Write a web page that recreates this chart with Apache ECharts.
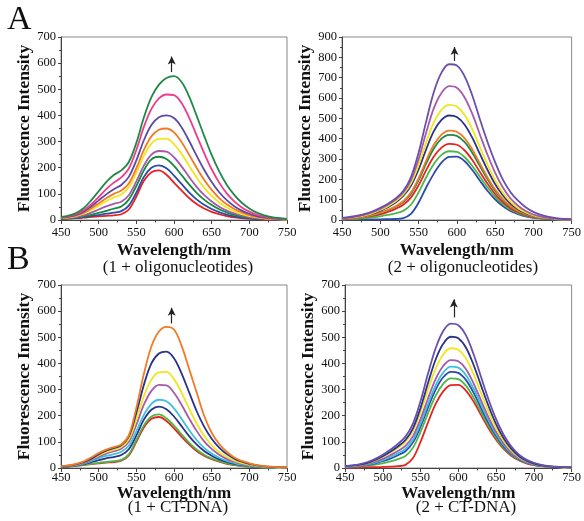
<!DOCTYPE html>
<html><head><meta charset="utf-8">
<script src="https://cdn.jsdelivr.net/npm/echarts@6/dist/echarts.min.js"></script>
<style>html,body{margin:0;padding:0;background:#fff}#c{width:584px;height:521px}</style>
</head><body><div id="c"></div>
<script>
// Wavelength grid (nm)
const wavelengths = [450,460,470,480,490,500,510,520,530,540,550,560,570,580,590,600,610,620,630,640,650,660,670,680,690,700,710,720,730,740,750];
const xTicks = [450,500,550,600,650,700,750];

// Panel A-left: 1 + oligonucleotides
const a1Red    = [3,5,7,9,12,14,16,18,22,40,90,150,183,190,173,143,113,84,61,44,31,22,15,10,7,5,3,2,1,1,0];
const a1Blue   = [4,6,8,11,15,19,24,28,34,55,105,165,200,209,198,170,138,106,79,58,42,30,21,14,9,6,4,3,2,1,0];
const a1Green  = [5,7,10,14,20,27,35,43,52,78,130,190,232,242,233,207,172,136,104,78,57,41,29,20,13,9,6,4,3,2,1];
const a1Purple = [6,8,12,18,28,40,52,62,70,95,148,208,250,264,262,240,205,165,127,96,71,51,36,25,17,11,7,5,3,2,1];
const a1Yellow = [7,10,15,24,38,55,72,86,98,125,180,245,292,310,311,290,253,208,163,124,92,67,48,33,22,15,10,6,4,3,2];
const a1Orange = [8,11,17,27,44,63,83,100,113,140,198,268,320,345,350,335,298,250,200,154,115,84,60,42,29,19,12,8,5,3,2];
const a1Indigo = [9,13,20,32,52,75,98,118,134,165,228,305,363,393,400,390,355,303,246,192,145,106,76,53,36,24,15,10,6,4,3];
const a1Pink   = [10,14,22,36,60,88,118,143,163,197,268,356,425,465,480,478,448,392,324,256,194,143,102,71,48,32,20,13,8,5,3];
const a1Dgreen = [12,17,27,45,75,110,145,172,190,222,295,392,470,518,543,550,528,473,399,322,249,186,135,96,66,44,28,18,11,7,4];

// Panel A-right: 2 + oligonucleotides
const a2Blue   = [2,2,2,2,3,3,4,5,9,30,85,160,228,282,310,312,290,247,194,144,102,69,45,29,18,11,7,4,3,2,1];
const a2Lgreen = [3,4,6,9,13,18,25,33,45,75,135,210,275,320,338,335,310,267,214,161,115,79,52,34,22,14,8,5,3,2,1];
const a2Red    = [4,6,9,14,20,28,40,55,75,110,170,245,312,356,374,370,343,296,237,179,128,88,58,38,24,15,9,6,4,2,1];
const a2Dgreen = [5,7,10,16,24,34,48,65,88,128,195,278,352,400,419,414,384,332,266,201,144,99,66,43,27,17,10,6,4,2,1];
const a2Orange = [5,7,11,17,25,36,50,68,92,135,205,292,370,420,440,434,403,348,279,211,151,104,69,45,29,18,11,7,4,2,1];
const a2Navy   = [6,9,14,21,31,45,63,86,118,168,248,348,437,492,514,507,470,406,326,247,177,122,81,53,33,21,13,8,5,3,2];
const a2Yellow = [7,10,15,23,34,49,68,92,126,180,270,382,481,542,566,558,518,448,360,273,196,135,90,58,37,23,14,9,5,3,2];
const a2Magenta= [8,12,18,27,39,55,75,100,135,195,298,430,550,625,658,650,604,524,422,322,233,161,107,70,44,27,17,10,6,4,2];
const a2Purple = [10,15,21,30,43,60,80,106,142,210,330,485,630,725,766,760,708,615,497,385,285,200,138,95,63,40,25,15,9,5,3];

// Panel B-left: 1 + CT-DNA
const b1Red    = [3,5,8,11,15,18,21,23,28,48,100,155,188,195,180,152,120,90,65,47,34,24,16,11,7,5,3,2,1,1,0];
const b1Green  = [3,5,8,12,16,20,23,26,31,52,107,163,197,205,190,162,129,97,71,51,37,26,18,12,8,5,3,2,1,1,0];
const b1Navy   = [4,6,10,15,22,30,37,42,50,72,125,185,223,235,225,197,160,122,90,65,47,33,23,16,11,7,5,3,2,1,1];
const b1Cyan   = [5,7,11,17,26,37,46,53,62,85,140,203,245,261,255,228,188,145,107,77,55,39,27,19,13,8,5,3,2,1,1];
const b1Magenta= [5,8,12,19,30,43,55,64,74,100,165,242,295,318,316,288,242,190,142,102,73,51,35,24,16,11,7,4,3,2,1];
const b1Yellow = [6,9,13,21,33,48,61,70,80,110,185,275,338,366,368,340,288,228,170,123,87,61,42,28,19,13,8,5,3,2,1];
const b1Blue   = [6,9,14,22,35,52,66,76,87,120,210,318,400,438,445,420,362,290,218,158,112,78,53,36,24,16,10,6,4,3,2];
const b1Orange = [7,10,16,25,40,57,70,80,90,125,230,360,465,522,540,530,468,380,290,200,135,92,62,40,27,18,11,7,5,3,2];

// Panel B-right: 2 + CT-DNA
const b2Red    = [2,2,2,3,3,4,5,7,12,38,100,175,245,293,317,318,296,255,203,152,108,73,47,30,18,11,7,4,3,2,1];
const b2Green  = [3,4,6,9,13,18,25,34,46,78,138,210,277,322,343,340,315,270,215,161,115,78,51,32,20,12,7,4,3,2,1];
const b2Navy   = [4,5,8,12,18,26,36,49,64,98,158,232,300,347,368,364,337,289,230,172,123,83,54,34,21,13,8,5,3,2,1];
const b2Cyan   = [4,6,9,14,21,30,42,56,73,108,170,246,316,365,388,384,356,305,243,182,130,88,57,36,22,14,8,5,3,2,1];
const b2Magenta= [5,7,10,16,24,35,49,65,85,122,187,267,340,390,413,408,379,325,259,194,138,94,61,38,24,15,9,5,3,2,1];
const b2Yellow = [6,8,12,19,29,42,58,77,100,142,213,300,380,434,458,452,420,360,287,215,153,104,67,42,26,16,10,6,4,2,1];
const b2Dnavy  = [6,9,13,20,31,45,62,82,107,152,230,326,415,475,502,496,461,396,316,237,168,114,74,46,28,17,10,6,4,3,2];
const b2Purple = [7,10,15,23,35,51,70,92,120,170,256,362,458,524,552,546,508,437,349,262,187,127,83,52,32,20,12,7,5,3,2];

// Arrow annotations [x, yStart, yEnd]
const arrowA1 = [597, 566, 625];
const arrowA2 = [597, 782, 851];
const arrowB1 = [597, 553, 613];
const arrowB2 = [594, 576, 645];

const C = {
  red:'#e8231f', blue:'#2a4ba8', green:'#17893d', purple:'#a55aab', yellow:'#f2e51c',
  orange:'#f27a24', indigo:'#5b4aa5', pink:'#ee3b8e', dgreen:'#1f8a48', lgreen:'#4db748',
  cyan:'#3fc0de', navy:'#28338c', vpurple:'#6a50aa'
};

const panels = [
  {grid:{left:61,top:37,width:226,height:183}, ymax:700, arrow:arrowA1, yGap:24, xGap:22, lblMargin:6,
   lines:[[a1Red,C.red],[a1Blue,C.blue],[a1Green,C.green],[a1Purple,C.purple],[a1Yellow,C.yellow],[a1Orange,C.orange],[a1Indigo,C.indigo],[a1Pink,C.pink],[a1Dgreen,C.dgreen]]},
  {grid:{left:342,top:37,width:230,height:183}, ymax:900, arrow:arrowA2, yGap:22, xGap:22, lblMargin:6,
   lines:[[a2Blue,C.blue],[a2Lgreen,C.lgreen],[a2Red,C.red],[a2Dgreen,C.dgreen],[a2Orange,C.orange],[a2Navy,C.navy],[a2Yellow,C.yellow],[a2Magenta,C.purple],[a2Purple,C.vpurple]]},
  {grid:{left:61,top:285,width:226,height:183}, ymax:700, arrow:arrowB1, yGap:24, xGap:15, lblMargin:3,
   lines:[[b1Red,C.red],[b1Green,C.lgreen],[b1Navy,C.navy],[b1Cyan,C.cyan],[b1Magenta,C.purple],[b1Yellow,C.yellow],[b1Blue,C.navy],[b1Orange,C.orange]]},
  {grid:{left:345,top:285,width:227,height:183}, ymax:700, arrow:arrowB2, yGap:25, xGap:15, lblMargin:3,
   lines:[[b2Red,C.red],[b2Green,C.lgreen],[b2Navy,C.blue],[b2Cyan,C.cyan],[b2Magenta,C.purple],[b2Yellow,C.yellow],[b2Dnavy,C.navy],[b2Purple,C.vpurple]]}
];

const serif = '"Liberation Serif","Times New Roman",serif';
const axisCol = '#444';
const option = {animation:false, backgroundColor:'#fff', grid:[], xAxis:[], yAxis:[], series:[], title:[]};

panels.forEach((p,i)=>{
  option.grid.push(Object.assign({show:true, borderColor:'#888', borderWidth:1, containLabel:false}, p.grid));
  option.xAxis.push({
    type:'value', gridIndex:i, min:450, max:750, interval:50,
    name:'Wavelength/nm', nameLocation:'middle', nameGap:p.xGap,
    nameTextStyle:{fontFamily:serif, fontWeight:'bold', fontSize:17, color:'#111'},
    axisLine:{onZero:false, lineStyle:{color:axisCol, width:1}},
    axisTick:{inside:false, length:4, lineStyle:{color:axisCol}},
    minorTick:{show:true, splitNumber:2, length:2.5, lineStyle:{color:axisCol}},
    axisLabel:{fontFamily:serif, fontSize:12.5, color:'#111', margin:p.lblMargin},
    splitLine:{show:false}
  });
  option.yAxis.push({
    type:'value', gridIndex:i, min:0, max:p.ymax, interval:100,
    name:'Fluorescence Intensity', nameLocation:'middle', nameGap:p.yGap,
    nameTextStyle:{fontFamily:serif, fontWeight:'bold', fontSize:17.5, color:'#111'},
    axisLine:{show:true, lineStyle:{color:axisCol, width:1}},
    axisTick:{inside:false, length:3, lineStyle:{color:axisCol}},
    minorTick:{show:true, splitNumber:2, length:2, lineStyle:{color:axisCol}},
    axisLabel:{fontFamily:serif, fontSize:12.5, color:'#111', margin:5},
    splitLine:{show:false}
  });
  p.lines.forEach(([vals,col])=>{
    option.series.push({
      type:'line', xAxisIndex:i, yAxisIndex:i, smooth:0.35, showSymbol:false,
      lineStyle:{color:col, width:1.8}, itemStyle:{color:col},
      data: wavelengths.map((w,k)=>[w, vals[k]])
    });
  });
  option.series.push({
    type:'line', xAxisIndex:i, yAxisIndex:i, data:[], silent:true,
    markLine:{silent:true, animation:false, symbol:['none','arrow'], symbolSize:[6,8],
      lineStyle:{color:'#222', width:1.2, type:'solid'}, label:{show:false},
      data:[[{coord:[p.arrow[0], p.arrow[1]]},{coord:[p.arrow[0], p.arrow[2]]}]]}
  });
});

const subStyle = {fontFamily:serif, fontWeight:'normal', fontSize:17, color:'#111'};
option.title = [
  {text:'A', left:7, top:3, padding:0, textStyle:{fontFamily:serif, fontWeight:'normal', fontSize:34, color:'#111'}},
  {text:'B', left:7, top:243, padding:0, textStyle:{fontFamily:serif, fontWeight:'normal', fontSize:34, color:'#111'}},
  {text:'(1 + oligonucleotides)', left:178, top:259, padding:0, textAlign:'center', textStyle:subStyle},
  {text:'(2 + oligonucleotides)', left:463, top:259, padding:0, textAlign:'center', textStyle:subStyle},
  {text:'(1 + CT-DNA)', left:178, top:499, padding:0, textAlign:'center', textStyle:subStyle},
  {text:'(2 + CT-DNA)', left:466, top:499, padding:0, textAlign:'center', textStyle:subStyle}
];

const chart = echarts.init(document.getElementById('c'), null, {renderer:'canvas'});
chart.setOption(option);
</script>
</body></html>
